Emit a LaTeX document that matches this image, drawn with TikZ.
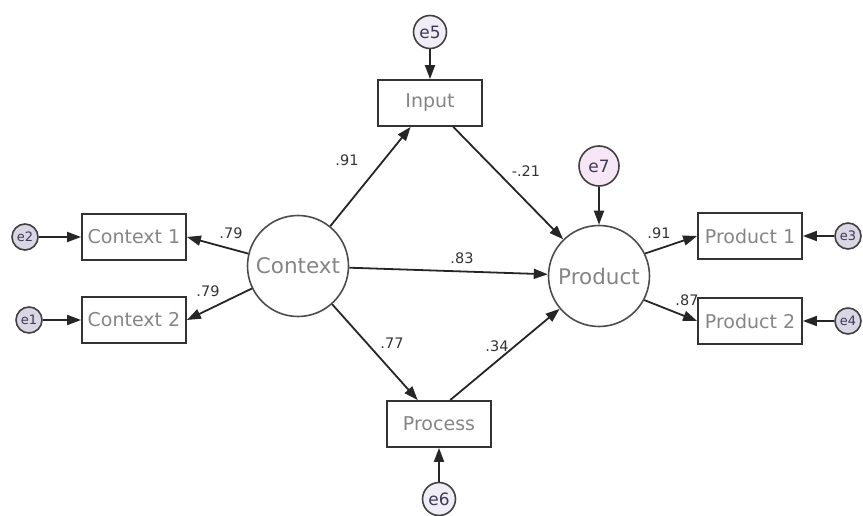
\documentclass[tikz,border=0pt]{standalone}
\usepackage{fontspec}
\setmainfont{DejaVu Sans}
\usetikzlibrary{arrows.meta}
\definecolor{errfill}{HTML}{F1EDF6}
\definecolor{sidefill}{HTML}{DAD6E4}
\definecolor{ebfill}{HTML}{F6E6F6}
\definecolor{boxtext}{HTML}{858585}
\definecolor{errtext}{HTML}{3C3A55}
\begin{document}
\begin{tikzpicture}[x=1pt,y=-1pt,
  obs/.style={draw=black!80, line width=1.8pt, minimum width=104pt, minimum height=46pt, inner sep=1pt, text=boxtext, font=\fontsize{19}{19}\selectfont},
  lat/.style={circle, draw=black!70, line width=1.6pt, minimum size=101pt, inner sep=0pt, text=boxtext, font=\fontsize{21.5}{21.5}\selectfont},
  err/.style={circle, draw=black!75, line width=1.6pt, fill=errfill, minimum size=33pt, inner sep=0pt, text=errtext, font=\fontsize{17}{17}\selectfont},
  side/.style={err, fill=sidefill, minimum size=26pt, font=\fontsize{13}{13}\selectfont},
  path/.style={-{Triangle[length=14pt,width=10pt]}, line width=1.8pt, black!85},
  coef/.style={inner sep=0pt, text=black!80, font=\fontsize{14.5}{14.5}\selectfont}]

\useasboundingbox (0,0) rectangle (863,516);

\node[lat] (context) at (298,266) {Context};
\node[lat] (product) at (599,276) {Product};

\node[obs] (input) at (430,103) {Input};
\node[obs] (process) at (439,424) {Process};
\node[obs] (ctx1) at (134,237) {Context 1};
\node[obs] (ctx2) at (134,320) {Context 2};
\node[obs] (prod1) at (750,236) {Product 1};
\node[obs] (prod2) at (750,321) {Product 2};

\node[err] (e5) at (430,32) {e5};
\node[err] (e6) at (439,499) {e6};
\node[err, fill=ebfill, minimum size=40pt] (e7) at (599,166) {e7};
\node[side] (e2) at (25,237) {e2};
\node[side] (e1) at (29,320) {e1};
\node[side] (e3) at (848,236) {e3};
\node[side] (e4) at (848,321) {e4};

\draw[path] (e5) -- (input);
\draw[path] (e6) -- (process);
\draw[path] (e7) -- (product);
\draw[path] (e2) -- (ctx1);
\draw[path] (e1) -- (ctx2);
\draw[path] (e3) -- (prod1);
\draw[path] (e4) -- (prod2);

\draw[path] (context) -- (input);
\draw[path] (input) -- (product);
\draw[path] (context) -- (product);
\draw[path] (context) -- (process);
\draw[path] (process.65) -- (product);
\draw[path] (context.166) -- (ctx1.east);
\draw[path] (context.206) -- (ctx2.east);
\draw[path] (product.26) -- (prod1.west);
\draw[path] (product.-28) -- (prod2.west);

\node[coef] (c1) at (347,160) {.91};
\node[coef] (c2) at (526,171) {-.21};
\node[coef] (c3) at (462,258) {.83};
\node[coef] (c4) at (392,343) {.77};
\node[coef] (c5) at (497,346) {.34};
\node[coef] (c6) at (231,233) {.79};
\node[coef] (c7) at (208,291) {.79};
\node[coef] (c8) at (659,233) {.91};
\node[coef] (c9) at (687,300) {.87};

\end{tikzpicture}
\end{document}
